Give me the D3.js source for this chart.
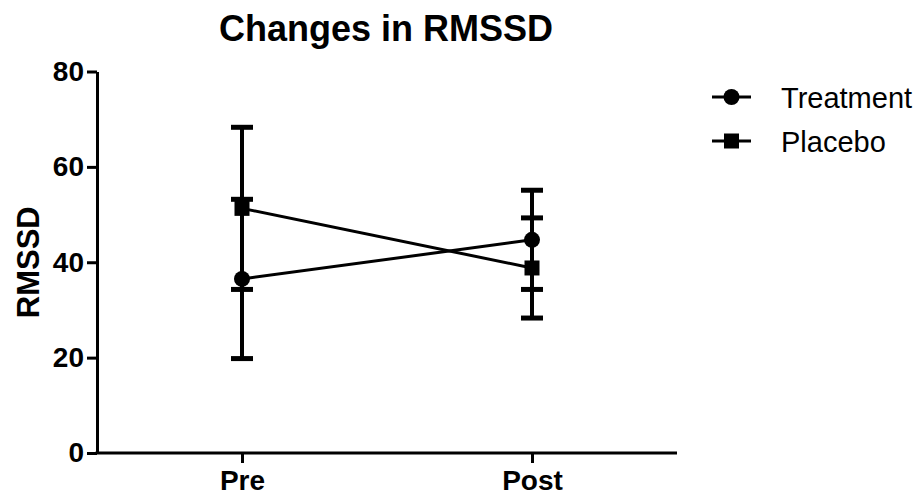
<!DOCTYPE html>
<html>
<head>
<meta charset="utf-8">
<script src="https://cdn.jsdelivr.net/npm/d3@7"></script>
<style>
  body { margin: 0; background: #fff; }
  svg { font-family: "Liberation Sans", Arial, sans-serif; }
</style>
</head>
<body>
<svg id="chart" width="923" height="499"></svg>
<script>
// Données
const timepoints = ["Pre", "Post"];
const treatmentMean = [36.5, 44.7];
const treatmentSem = [16.7, 10.4];
const placeboMean = [51.3, 38.8];
const placeboSem = [17.0, 10.5];
const yTicks = [0, 20, 40, 60, 80];

const series = [
  { name: "Treatment", symbol: "circle", mean: treatmentMean, sem: treatmentSem },
  { name: "Placebo", symbol: "square", mean: placeboMean, sem: placeboSem }
];

const svg = d3.select("#chart");
const plotLeft = 97, plotRight = 677, plotTop = 71.5, plotBottom = 453;

const x = d3.scalePoint().domain(timepoints).range([plotLeft, plotRight]).padding(0.5);
const y = d3.scaleLinear().domain([0, 80]).range([plotBottom, plotTop]);

// Titre
svg.append("text")
  .attr("x", 386).attr("y", 41)
  .attr("text-anchor", "middle")
  .attr("font-size", 36).attr("font-weight", "bold")
  .text("Changes in RMSSD");

// Axe Y
const yAxis = svg.append("g").attr("transform", `translate(${plotLeft},0)`)
  .call(d3.axisLeft(y).tickValues(yTicks).tickSize(10).tickPadding(3).tickSizeOuter(0));
yAxis.select(".domain").attr("stroke-width", 3);
yAxis.selectAll(".tick line").attr("stroke-width", 3);
yAxis.selectAll(".tick text").attr("font-size", 28).attr("font-weight", "bold")
  .attr("font-family", "Liberation Sans, Arial, sans-serif").attr("fill", "#000");

// Axe X
const xAxis = svg.append("g").attr("transform", `translate(0,${plotBottom})`)
  .call(d3.axisBottom(x).tickSize(10).tickPadding(7).tickSizeOuter(0));
xAxis.select(".domain").attr("stroke-width", 3).attr("d", `M${plotLeft - 1.5},0H${plotRight}`);
xAxis.selectAll(".tick line").attr("stroke-width", 3);
xAxis.selectAll(".tick text").attr("font-size", 28).attr("font-weight", "bold")
  .attr("font-family", "Liberation Sans, Arial, sans-serif").attr("fill", "#000");

// Titre de l'axe Y
svg.append("text")
  .attr("transform", `translate(39,${(plotTop + plotBottom) / 2}) rotate(-90)`)
  .attr("text-anchor", "middle")
  .attr("font-size", 31).attr("font-weight", "bold")
  .text("RMSSD");

const line = d3.line().x((d, i) => x(timepoints[i])).y(d => y(d));

function drawSymbol(g, kind, cx, cy) {
  if (kind === "circle") {
    g.append("circle").attr("cx", cx).attr("cy", cy).attr("r", 8).attr("fill", "#000");
  } else {
    g.append("rect").attr("x", cx - 7.5).attr("y", cy - 7.5)
      .attr("width", 15).attr("height", 15).attr("fill", "#000");
  }
}

series.forEach(s => {
  const g = svg.append("g");
  // Barres d'erreur
  s.mean.forEach((m, i) => {
    const cx = x(timepoints[i]);
    const lo = y(m - s.sem[i]), hi = y(m + s.sem[i]);
    g.append("line").attr("x1", cx).attr("x2", cx).attr("y1", lo).attr("y2", hi)
      .attr("stroke", "#000").attr("stroke-width", 4);
    [lo, hi].forEach(yy => {
      g.append("line").attr("x1", cx - 11).attr("x2", cx + 11).attr("y1", yy).attr("y2", yy)
        .attr("stroke", "#000").attr("stroke-width", 5);
    });
  });
  // Ligne
  g.append("path").datum(s.mean).attr("d", line)
    .attr("fill", "none").attr("stroke", "#000").attr("stroke-width", 3);
  // Symboles
  s.mean.forEach((m, i) => drawSymbol(g, s.symbol, x(timepoints[i]), y(m)));
});

// Légende
series.forEach((s, i) => {
  const ly = 97 + i * 44;
  const g = svg.append("g");
  g.append("line").attr("x1", 712).attr("x2", 751).attr("y1", ly).attr("y2", ly)
    .attr("stroke", "#000").attr("stroke-width", 3);
  drawSymbol(g, s.symbol, 731.5, ly);
  g.append("text").attr("x", 781).attr("y", ly + 10.5)
    .attr("font-size", 29).text(s.name);
});
</script>
</body>
</html>
